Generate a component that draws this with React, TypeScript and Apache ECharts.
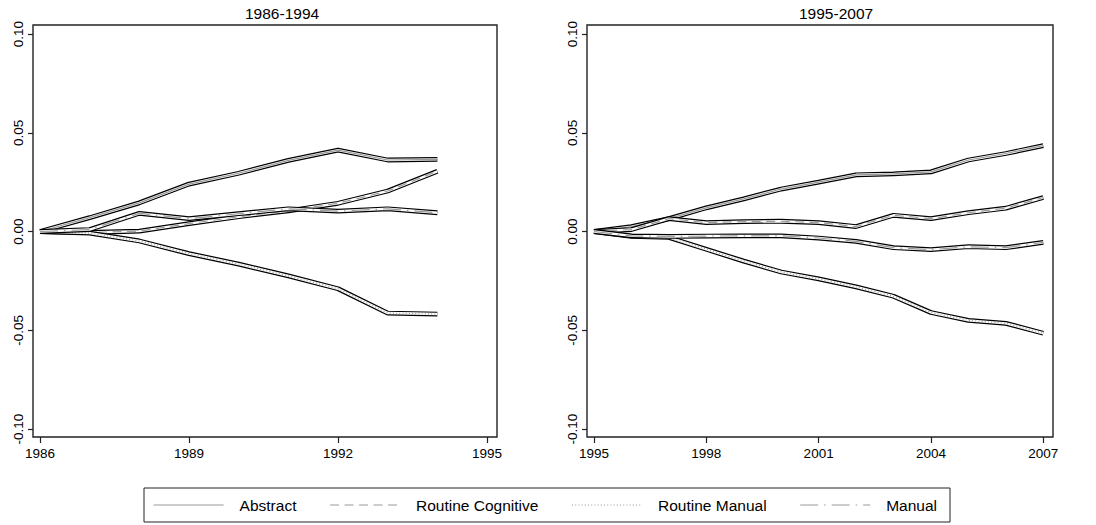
import React, { useEffect, useRef } from "react";
import * as echarts from "echarts";

// ---- data ----
const seriesNames = ["Abstract", "Routine Cognitive", "Routine Manual", "Manual"];
const panelTitles = ["1986-1994", "1995-2007"];

const years1 = [1986, 1987, 1988, 1989, 1990, 1991, 1992, 1993, 1994];
const abstract1 = [0, 0.007, 0.0145, 0.024, 0.0295, 0.036, 0.0412, 0.0362, 0.0365];
const routineCog1 = [0, -0.0005, 0.0002, 0.004, 0.0075, 0.0105, 0.0143, 0.0205, 0.0305];
const routineMan1 = [0, -0.0008, -0.0048, -0.0112, -0.0165, -0.0225, -0.029, -0.0413, -0.0418];
const manual1 = [0, 0.001, 0.0092, 0.0065, 0.009, 0.0115, 0.0103, 0.0115, 0.0095];

const years2 = [1995, 1996, 1997, 1998, 1999, 2000, 2001, 2002, 2003, 2004, 2005, 2006, 2007];
const abstract2 = [0, 0.0025, 0.0065, 0.012, 0.0165, 0.0215, 0.025, 0.0287, 0.0292, 0.0302, 0.0362, 0.0395, 0.0435];
const routineCog2 = [0, 0.001, 0.0065, 0.0045, 0.005, 0.0052, 0.0045, 0.0025, 0.0082, 0.0065, 0.0095, 0.0118, 0.0172];
const routineMan2 = [0, -0.0025, -0.003, -0.009, -0.015, -0.0205, -0.024, -0.028, -0.0328, -0.041, -0.045, -0.0465, -0.0515];
const manual2 = [0, -0.0022, -0.0025, -0.0023, -0.0022, -0.0022, -0.0033, -0.005, -0.0082, -0.0092, -0.0077, -0.0082, -0.0055];

const xTicks1 = [1986, 1989, 1992, 1995];
const xTicks2 = [1995, 1998, 2001, 2004, 2007];
const yTicks = [-0.1, -0.05, 0, 0.05, 0.1];

const FONT = "'Liberation Sans', Arial, Helvetica, sans-serif";
const GRAY = "#9a9a9a";
const dashes: any[] = ["solid", [9, 5.5], [1, 2.2], [18, 6, 1.5, 6]];

export default function App() {
  const ref = useRef<HTMLDivElement>(null);
  useEffect(() => {
    document.body.style.margin = "0";
    const chart = echarts.init(ref.current!, null, { renderer: "svg" });

    const panels = [
      { years: years1, values: [abstract1, routineCog1, routineMan1, manual1] },
      { years: years2, values: [abstract2, routineCog2, routineMan2, manual2] },
    ];

    const series: any[] = [];
    panels.forEach((p, pi) => {
      p.values.forEach((vals, si) => {
        const data = p.years.map((y, i) => [y, vals[i]]);
        const base = {
          type: "line",
          xAxisIndex: pi,
          yAxisIndex: pi,
          data,
          symbol: "none",
          showSymbol: false,
          silent: true,
          animation: false,
          z: 2 + si,
        };
        series.push({
          ...base,
          name: seriesNames[si] + " upper/lower " + pi,
          lineStyle: { color: "#000", width: 4.8 },
        });
        series.push({
          ...base,
          name: seriesNames[si] + " gap " + pi,
          lineStyle: { color: "#fff", width: 2.4 },
        });
        series.push({
          ...base,
          name: seriesNames[si],
          color: GRAY,
          lineStyle: { color: GRAY, width: 1.2, type: dashes[si] },
        });
      });
    });

    const axisLabelBase = { fontFamily: FONT, fontSize: 13.5, color: "#000" };
    const tickStyle = { color: "#222", width: 1.2 };

    const option: any = {
      animation: false,
      backgroundColor: "#fff",
      title: panelTitles.map((t, i) => ({
        text: t,
        left: i === 0 ? 245 : 799,
        top: 5,
        padding: 0,
        textStyle: { fontFamily: FONT, fontSize: 15.5, fontWeight: "normal", color: "#000" },
      })),
      grid: [
        { left: 33, top: 25, width: 464, height: 412, show: true, borderColor: "#222", borderWidth: 1.4, backgroundColor: "transparent" },
        { left: 587, top: 25, width: 466, height: 412, show: true, borderColor: "#222", borderWidth: 1.4, backgroundColor: "transparent" },
      ],
      xAxis: [
        {
          type: "value",
          gridIndex: 0,
          min: 1985.859,
          max: 1995.2,
          axisLine: { show: false, onZero: false },
          splitLine: { show: false },
          axisTick: { show: true, length: 6, customValues: xTicks1, lineStyle: tickStyle },
          axisLabel: { ...axisLabelBase, margin: 9, customValues: xTicks1, formatter: (v: number) => String(v) },
        },
        {
          type: "value",
          gridIndex: 1,
          min: 1994.813,
          max: 2007.26,
          axisLine: { show: false, onZero: false },
          splitLine: { show: false },
          axisTick: { show: true, length: 6, customValues: xTicks2, lineStyle: tickStyle },
          axisLabel: { ...axisLabelBase, margin: 9, customValues: xTicks2, formatter: (v: number) => String(v) },
        },
      ],
      yAxis: [0, 1].map((gi) => ({
        type: "value",
        gridIndex: gi,
        min: -0.10405,
        max: 0.10456,
        axisLine: { show: false, onZero: false },
        splitLine: { show: false },
        axisTick: { show: true, length: 5, customValues: yTicks, lineStyle: tickStyle },
        axisLabel: {
          ...axisLabelBase,
          rotate: 90,
          margin: 8,
          customValues: yTicks,
          formatter: (v: number) => v.toFixed(2),
        },
      })),
      legend: {
        data: seriesNames,
        left: 144,
        top: 488,
        orient: "horizontal",
        itemWidth: 70,
        itemHeight: 15,
        itemGap: 33,
        padding: [9, 13, 9, 9],
        borderColor: "#222",
        borderWidth: 1,
        selectedMode: false,
        itemStyle: { opacity: 0 },
        lineStyle: { width: 1.2 },
        textStyle: { fontFamily: FONT, fontSize: 15.5, color: "#000", padding: [0, 0, 0, 11] },
      },
      series,
    };

    chart.setOption(option);
    return () => chart.dispose();
  }, []);

  return <div ref={ref} style={{ width: 1096, height: 525 }} />;
}
